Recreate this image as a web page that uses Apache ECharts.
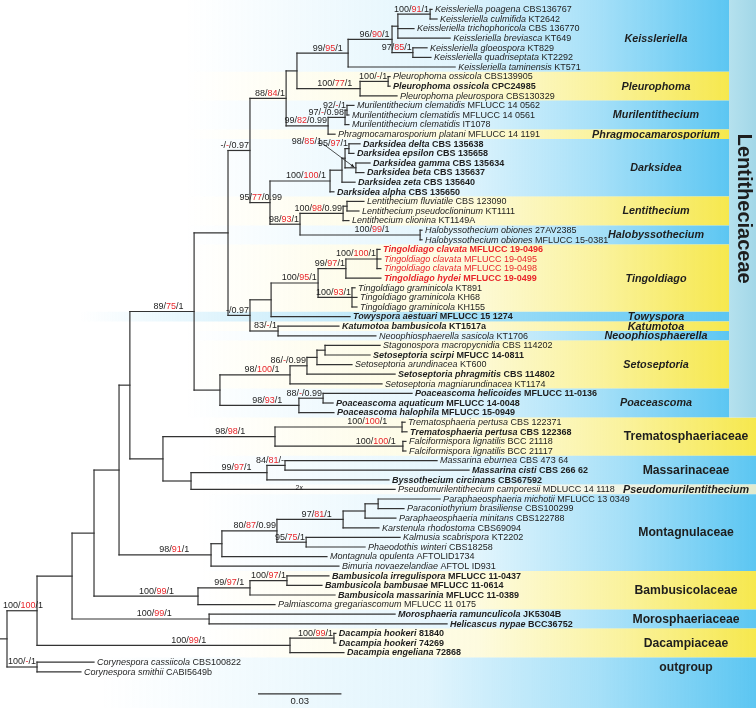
<!DOCTYPE html>
<html><head><meta charset="utf-8">
<script src="https://cdn.jsdelivr.net/npm/echarts@6/dist/echarts.min.js"></script>
<style>html,body{margin:0;padding:0;background:#fff}#c{width:756px;height:708px}</style>
</head><body><div id="c"></div>
<script>
// ---------------- DATA ----------------
const taxonName = [
 'Keissleriella poagena','Keissleriella culmifida','Keissleriella trichophoricola','Keissleriella breviasca','Keissleriella gloeospora','Keissleriella quadriseptata','Keissleriella taminensis',
 'Pleurophoma ossicola','Pleurophoma ossicola','Pleurophoma pleurospora',
 'Murilentithecium clematidis','Murilentithecium clematidis','Murilentithecium clematidis','Phragmocamarosporium platani',
 'Darksidea delta','Darksidea epsilon','Darksidea gamma','Darksidea beta','Darksidea zeta','Darksidea alpha',
 'Lentithecium fluviatile','Lentithecium pseudoclioninum','Lentithecium clionina',
 'Halobyssothecium obiones','Halobyssothecium obiones',
 'Tingoldiago clavata','Tingoldiago clavata','Tingoldiago clavata','Tingoldiago hydei','Tingoldiago graminicola','Tingoldiago graminicola','Tingoldiago graminicola',
 'Towyspora aestuari','Katumotoa bambusicola','Neoophiosphaerella sasicola',
 'Stagonospora macropycnidia','Setoseptoria scirpi','Setoseptoria arundinacea','Setoseptoria phragmitis','Setoseptoria magniarundinacea',
 'Poaceascoma helicoides','Poaceascoma aquaticum','Poaceascoma halophila',
 'Trematosphaeria pertusa','Trematosphaeria pertusa','Falciformispora lignatilis','Falciformispora lignatilis',
 'Massarina eburnea','Massarina cisti','Byssothecium circinans','Pseudomurilentithecium camporesii',
 'Paraphaeosphaeria michotii','Paraconiothyrium brasiliense','Paraphaeosphaeria minitans','Karstenula rhodostoma','Kalmusia scabrispora','Phaeodothis winteri','Montagnula opulenta','Bimuria novaezelandiae',
 'Bambusicola irregulispora','Bambusicola bambusae','Bambusicola massarinia','Palmiascoma gregariascomum',
 'Morosphaeria ramunculicola','Helicascus nypae',
 'Dacampia hookeri','Dacampia hookeri','Dacampia engeliana',
 'Corynespora cassiicola','Corynespora smithii'
];
const taxonCode = [
 'CBS136767','KT2642','CBS 136770','KT649','KT829','KT2292','KT571',
 'CBS139905','CPC24985','CBS130329',
 'MFLUCC 14 0562','MFLUCC 14 0561','IT1078','MFLUCC 14 1191',
 'CBS 135638','CBS 135658','CBS 135634','CBS 135637','CBS 135640','CBS 135650',
 'CBS 123090','KT1111','KT1149A',
 '27AV2385','MFLUCC 15-0381',
 'MFLUCC 19-0496','MFLUCC 19-0495','MFLUCC 19-0498','MFLUCC 19-0499','KT891','KH68','KH155',
 'MFLUCC 15 1274','KT1517a','KT1706',
 'CBS 114202','MFUCC 14-0811','KT600','CBS 114802','KT1174',
 'MFLUCC 11-0136','MFLUCC 14-0048','MFLUCC 15-0949',
 'CBS 122371','CBS 122368','BCC 21118','BCC 21117',
 'CBS 473 64','CBS 266 62','CBS67592','MDLUCC 14 1118',
 'MFLUCC 13 0349','CBS100299','CBS122788','CBS69094','KT2202','CBS18258','AFTOLID1734','AFTOL ID931',
 'MFLUCC 11-0437','MFLUCC 11-0614','MFLUCC 11-0389','MFLUCC 11 0175',
 'JK5304B','BCC36752',
 '81840','74269','72868',
 'CBS100822','CABI5649b'
];
// parent internal node of each leaf
const leafParent = [49,49,48,48,50,50,46, 52,52,51, 55,55,54,53, 60,60,61,61,58,57, 64,64,63, 65,65,
 41,41,41,40,42,42,42, 38,43,43, 33,33,32,31,30, 35,35,34, 23,23,24,24, 27,27,26,25,
 18,18,17,16,19,19,14,13, 11,11,10,9, 7,7, 5,5,4, 2,2];
// tip depth of each leaf (substitutions / site from the root)
const leafDepth = [0.1529,0.1547,0.1464,0.1594,0.1511,0.1525,0.1612, 0.1378,0.1378,0.1403,
 0.1248,0.1230,0.1230,0.1180, 0.1270,0.1248,0.1306,0.1284,0.1252,0.1176, 0.1284,0.1266,0.1230, 0.1493,0.1493,
 0.1342,0.1345,0.1345,0.1345,0.1252,0.1259,0.1259, 0.1234,0.1194,0.1327,
 0.1342,0.1306,0.1241,0.1396,0.1349, 0.1457,0.1173,0.1176, 0.1432,0.1439,0.1435,0.1435,
 0.1547,0.1662,0.1374,0.1396, 0.1558,0.1428,0.1399,0.1338,0.1414,0.1288,0.1151,0.1194,
 0.1158,0.1133,0.1180,0.0964, 0.1396,0.1583, 0.1183,0.1183,0.1212, 0.0313,0.0266];
// internal nodes: parent, depth, support (ML / MP / PP)
const nodeParent = [-1,0,0,1,1,4,3,3,6,6,9,10,8,8,13,14,15,16,17,15,12,12,21,22,22,21,25,26,20,20,29,30,31,32,29,34,28,28,37,38,39,40,39,37,36,44,45,46,47,48,47,45,51,44,53,54,36,56,57,58,59,59,56,62,63,62];
const nodeDepth = [0,0.0108,0.0108,0.0234,0.1018,0.1176,0.0313,0.0727,0.0403,0.0687,0.0874,0.1007,0.0442,0.0734,0.0773,0.0971,0.1209,0.1288,0.1335,0.1076,
 0.0673,0.0561,0.0964,0.1421,0.1424,0.0662,0.0935,0.1000,0.0795,0.0766,0.1018,0.1079,0.1115,0.1144,0.1050,0.1137,0.0874,0.0874,0.0950,0.1119,
 0.1219,0.1331,0.1241,0.0975,0.1004,0.1043,0.1227,0.1385,0.1406,0.1522,0.1460,0.1270,0.1371,0.1155,0.1216,0.1223,0.0946,0.1162,0.1205,0.1216,
 0.1230,0.1255,0.1054,0.1209,0.1223,0.1486];
const nodeSupport = ['','100/100/1','100/-/1','','100/99/1','100/99/1','','100/99/1','','100/99/1','99/97/1','100/97/1','','98/91/1','','80/87/0.99','97/81/1','','','95/75/1',
 '89/75/1','','98/98/1','100/100/1','100/100/1','','99/97/1','84/81/-','','','98/100/1','86/-/0.99','','','98/93/1','88/-/0.99','-/-/0.97','-/0.97','','100/95/1',
 '99/97/1','100/100/1','100/93/1','83/-/1','88/84/1','','99/95/1','96/90/1','','100/91/1','97/85/1','100/77/1','100/-/1','99/82/0.99','97/-/0.98','92/-/1','95/77/0.99','100/100/1','','',
 '95/97/1','98/85/1','98/93/1','100/98/0.99','','100/99/1'];
// clade annotation bands
const groupName  = ['Keissleriella','Pleurophoma','Murilentithecium','Phragmocamarosporium','Darksidea','Lentithecium','Halobyssothecium','Tingoldiago','Towyspora','Katumotoa','Neoophiosphaerella','Setoseptoria','Poaceascoma',
 'Trematosphaeriaceae','Massarinaceae','Pseudomurilentithecium','Montagnulaceae','Bambusicolaceae','Morosphaeriaceae','Dacampiaceae','outgroup'];
const groupFirst = [0,7,10,13,14,20,23,25,32,33,34,35,40,43,47,50,51,59,63,65,68];
const groupLast  = [6,9,12,13,19,22,24,31,32,33,34,39,42,46,49,50,58,62,64,67,69];
const familyName = 'Lentitheciaceae', familyFirst = 0, familyLast = 42;
const scaleBarLength = 0.03, scaleBarStart = 0.0903, scaleBarRow = 71.3;
const longBranchLeaf = 50, longBranchNote = '2x';

// ---------------- STYLE ----------------
const FONT = '"Liberation Sans", Arial, Helvetica, sans-serif';
const boldRows = new Set([8,14,15,16,17,18,19,25,28,32,33,36,38,40,41,42,44,48,49,59,60,61,63,64,65,66,67]);
const redRows = new Set([25,26,27,28]);
const groupTone = ['b','y','b','y','b','y','b','y','b2','y','b','y','b','y','b','p','b','y','b','y','b'];
const groupFamily = [0,0,0,0,0,0,0,0,0,0,0,0,0,1,1,1,1,1,1,1,1];
const groupItalic = [1,1,1,1,1,1,1,1,1,1,1,1,1,0,0,1,0,0,0,0,0];
const bandFade = [185,185,185,185,185,185,185,185,80,185,185,185,185,200,200,200,200,200,200,200,100];
const toneRGB = {b:[92,198,242], b2:[92,198,242], y:[246,232,78], p:[226,234,205]};
const labelShift = {1:7, 56:13, 23:16, 24:24};
const callout = {61:[-34,-22]};
const LINE = '#333333', RED = '#e8262b', INK = '#1e1e1e';
const PX_PER_UNIT = 2780, ROOT_PX = 7, ROW_PX = 9.6, ROW0_PX = 9.4, W = 756, H = 708;

// ---------------- LAYOUT ----------------
const nNodes = nodeParent.length;
const kids = Array.from({length:nNodes}, () => []);
nodeParent.forEach((p,i) => { if (p >= 0) kids[p].push({leaf:false, i}); });
leafParent.forEach((p,i) => kids[p].push({leaf:true, i}));
const nodeY = new Array(nNodes);
function yOfNode(n){
  if (nodeY[n] !== undefined) return nodeY[n];
  const ys = kids[n].map(k => k.leaf ? k.i : yOfNode(k.i));
  nodeY[n] = (Math.min(...ys) + Math.max(...ys)) / 2;
  return nodeY[n];
}
yOfNode(0);

const measureCtx = document.createElement('canvas').getContext('2d');
function textW(t, size, weight){ measureCtx.font = (weight||'normal') + ' ' + size + 'px ' + FONT; return measureCtx.measureText(t).width; }

const leafRich = {};
['k','r'].forEach(c => ['n','b'].forEach(w => ['i','u'].forEach(s => {
  leafRich[c+w+s] = {fontSize:9, fontFamily:FONT, fontWeight: w==='b'?'bold':'normal', fontStyle: s==='i'?'italic':'normal', fill: c==='r'?RED:INK};
})));
const supRich = {k:{fontSize:9, fontFamily:FONT, fill:INK}, r:{fontSize:9, fontFamily:FONT, fill:RED}};
function supportRich(s){
  const parts = s.split('/');
  if (parts.length < 3) return '{k|' + s + '}';
  return '{k|' + parts[0] + '/}{r|' + parts[1] + '}{k|/' + parts[2] + '}';
}

const X_MIN = -ROOT_PX / PX_PER_UNIT, X_MAX = (W - ROOT_PX) / PX_PER_UNIT;
const Y_MIN = -ROW0_PX / ROW_PX, Y_MAX = Y_MIN + H / ROW_PX;

const lineStyle = {stroke: LINE, lineWidth: 1.2, lineCap: 'square'};

function rgba(c,a){ return 'rgba(' + c[0] + ',' + c[1] + ',' + c[2] + ',' + a + ')'; }

const chart = echarts.init(document.getElementById('c'), null, {renderer:'canvas'});
chart.setOption({
  animation: false,
  grid: {left:0, top:0, width:W, height:H},
  xAxis: {type:'value', min:X_MIN, max:X_MAX, show:false},
  yAxis: {type:'value', min:Y_MIN, max:Y_MAX, inverse:true, show:false},
  series: [
    { // clade bands
      type:'custom', z:1, silent:true,
      data: groupName.map((g,i) => [0, groupFirst[i], i]),
      renderItem(params, api){
        const i = api.value(2);
        const cs = params.coordSys;
        const right = groupFamily[i] ? cs.x + cs.width : cs.x + cs.width - 27;
        let top = api.coord([0, groupFirst[i] - 0.5])[1];
        let bot = api.coord([0, groupLast[i] + 0.5])[1];
        if (i === 0) top = cs.y;
        if (i === groupName.length - 1) bot = cs.y + cs.height;
        const left = bandFade[i];
        const c = toneRGB[groupTone[i]];
        const strong = groupTone[i] === 'b2';
        const fill = new echarts.graphic.LinearGradient(0,0,1,0,[
          {offset:0, color:rgba(c,0)},
          {offset:0.5, color:rgba(c, strong?0.45:0.18)},
          {offset:0.76, color:rgba(c, strong?0.75:0.55)},
          {offset:1, color:rgba(c,1)}]);
        const midY = (api.coord([0, groupFirst[i]])[1] + api.coord([0, groupLast[i]])[1]) / 2;
        const cx = groupFamily[i] ? right - 70 : right - 73;
        return {type:'group', children:[
          {type:'rect', shape:{x:left, y:top, width:right-left, height:bot-top}, style:{fill}},
          {type:'text', x:cx, y:midY + 0.5, style:{text:groupName[i], fontFamily:FONT, fontWeight:'bold',
            fontStyle: groupItalic[i] ? 'italic' : 'normal', fontSize: groupFamily[i] && !groupItalic[i] ? 12.2 : 10.8,
            fill:INK, align:'center', verticalAlign:'middle'}}
        ]};
      }
    },
    { // family bar
      type:'custom', z:1, silent:true,
      data: [[0, familyFirst, 0]],
      renderItem(params, api){
        const cs = params.coordSys;
        const bot = api.coord([0, familyLast + 0.5])[1];
        const x0 = cs.x + cs.width - 27;
        return {type:'group', children:[
          {type:'rect', shape:{x:x0, y:cs.y, width:27, height:bot-cs.y},
           style:{fill:new echarts.graphic.LinearGradient(0,0,1,0,[{offset:0,color:'#b5e1ee'},{offset:1,color:'#a2d7e8'}])}},
          {type:'text', x:x0 + 15, y:(cs.y + bot)/2, rotation:-Math.PI/2,
           style:{text:familyName, fontFamily:FONT, fontWeight:'bold', fontSize:20, fill:INK, align:'center', verticalAlign:'middle'}}
        ]};
      }
    },
    { // branches
      type:'custom', z:3, silent:true,
      data: nodeParent.map((p,i) => [nodeDepth[i], nodeY[i], i]),
      renderItem(params, api){
        const n = api.value(2);
        const p = api.coord([nodeDepth[n], nodeY[n]]);
        const ys = kids[n].map(k => k.leaf ? k.i : nodeY[k.i]);
        const yTop = api.coord([0, Math.min(...ys)])[1], yBot = api.coord([0, Math.max(...ys)])[1];
        const ch = [{type:'line', shape:{x1:p[0], y1:yTop, x2:p[0], y2:yBot}, style:lineStyle}];
        kids[n].forEach(k => {
          const d = k.leaf ? leafDepth[k.i] : nodeDepth[k.i];
          const cy = k.leaf ? k.i : nodeY[k.i];
          const q = api.coord([d, cy]);
          ch.push({type:'line', shape:{x1:p[0], y1:q[1], x2:q[0], y2:q[1]}, style:lineStyle});
        });
        if (nodeParent[n] < 0) {
          const s = api.coord([X_MIN, nodeY[n]]);
          ch.push({type:'line', shape:{x1:s[0], y1:p[1], x2:p[0], y2:p[1]}, style:lineStyle});
        }
        return {type:'group', children:ch};
      }
    },
    { // support values
      type:'custom', z:4, silent:true,
      data: nodeParent.map((p,i) => [nodeDepth[i], nodeY[i], i]).filter(d => nodeSupport[d[2]] && nodeParent[d[2]] >= 0),
      renderItem(params, api){
        const n = api.value(2);
        const rich = supportRich(nodeSupport[n]);
        const p = api.coord([nodeDepth[n], nodeY[n]]);
        const s = api.coord([nodeDepth[nodeParent[n]], nodeY[n]]);
        const w = textW(nodeSupport[n], 9);
        if (callout[n]) {
          const rx = p[0] + callout[n][0], by = p[1] + callout[n][1];
          const ax = p[0] - 1.5, ay = p[1] - 0.5;
          const ang = Math.atan2(ay - (by - 2), ax - (rx + 1));
          const hl = 4;
          return {type:'group', children:[
            {type:'text', x:rx, y:by, style:{text:rich, rich:supRich, fontSize:9, fontFamily:FONT, align:'right', verticalAlign:'bottom'}},
            {type:'line', shape:{x1:rx + 1, y1:by - 2, x2:ax, y2:ay}, style:{stroke:'#222', lineWidth:0.8}},
            {type:'polygon', shape:{points:[[ax,ay],[ax - hl*Math.cos(ang-0.4), ay - hl*Math.sin(ang-0.4)],[ax - hl*Math.cos(ang+0.4), ay - hl*Math.sin(ang+0.4)]]}, style:{fill:'#222'}}
          ]};
        }
        const center = s[0] + 0.6 * (p[0] - s[0]);
        const right = Math.min(center + w/2, p[0] - 1) + (labelShift[n] || 0);
        return {type:'text', x:right, y:p[1] - 0.6, style:{text:rich, rich:supRich, fontSize:9, fontFamily:FONT, align:'right', verticalAlign:'bottom'}};
      }
    },
    { // taxon labels
      type:'custom', z:4, silent:true,
      data: taxonName.map((t,i) => [leafDepth[i], i, i]),
      renderItem(params, api){
        const i = api.value(2);
        const q = api.coord([leafDepth[i], i]);
        const pre = (redRows.has(i) ? 'r' : 'k') + (boldRows.has(i) ? 'b' : 'n');
        const text = '{' + pre + 'i|' + taxonName[i] + ' }{' + pre + 'u|' + taxonCode[i] + '}';
        return {type:'text', x:q[0] + 3, y:q[1] + 0.3, style:{text, rich:leafRich, fontSize:9, fontFamily:FONT, align:'left', verticalAlign:'middle'}};
      }
    },
    { // long-branch note and scale bar
      type:'custom', z:4, silent:true,
      data: [[scaleBarStart, scaleBarRow, 0]],
      renderItem(params, api){
        const a = api.coord([scaleBarStart, scaleBarRow]);
        const b = api.coord([scaleBarStart + scaleBarLength, scaleBarRow]);
        const s = api.coord([nodeDepth[leafParent[longBranchLeaf]], longBranchLeaf]);
        const e = api.coord([leafDepth[longBranchLeaf], longBranchLeaf]);
        return {type:'group', children:[
          {type:'line', shape:{x1:a[0], y1:a[1], x2:b[0], y2:b[1]}, style:{stroke:LINE, lineWidth:1.2}},
          {type:'text', x:(a[0]+b[0])/2, y:a[1] + 2.5, style:{text:String(scaleBarLength), fontSize:9.5, fontFamily:FONT, fill:INK, align:'center', verticalAlign:'top'}},
          {type:'text', x:s[0] + 0.53*(e[0]-s[0]), y:e[1] - 1.5, style:{text:longBranchNote, fontSize:7, fontFamily:FONT, fill:INK, align:'center', verticalAlign:'middle'}}
        ]};
      }
    }
  ]
});
</script></body></html>
